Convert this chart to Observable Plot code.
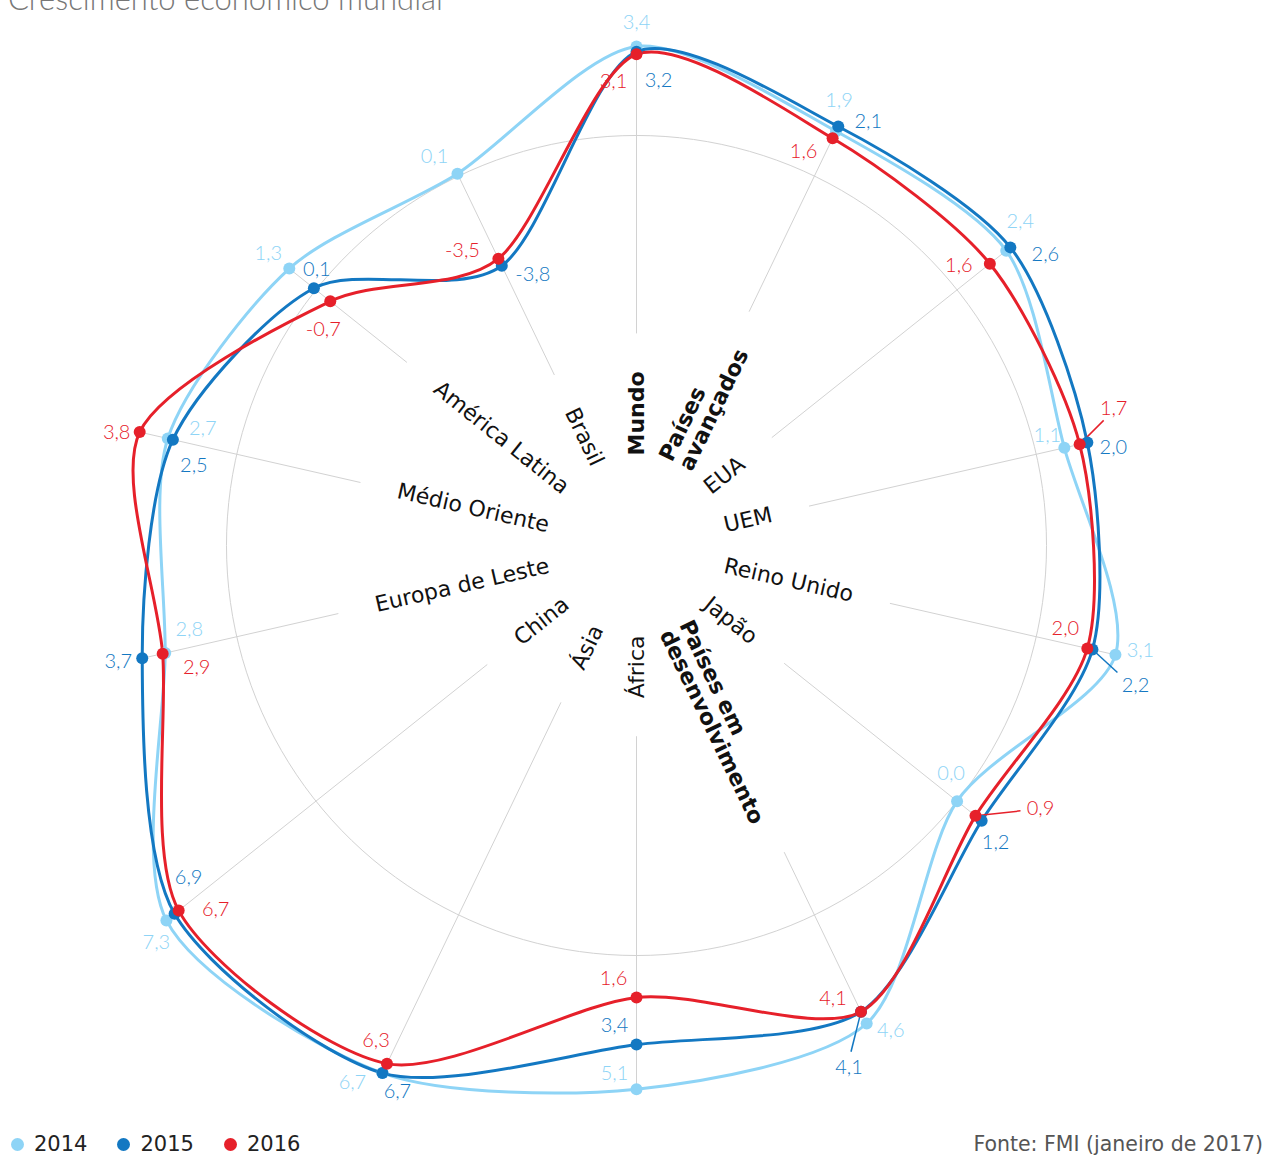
<!DOCTYPE html>
<html><head><meta charset="utf-8">
<script src="https://cdn.jsdelivr.net/npm/d3@7"></script>
<script src="https://cdn.jsdelivr.net/npm/@observablehq/plot@0.6"></script>
<style>
body{margin:0;background:#fff;}
#wrap{position:relative;width:1268px;height:1155px;overflow:hidden;}
#chart{position:absolute;left:0;top:0;}
#title{position:absolute;left:8px;top:-17px;font-family:Lato,sans-serif;font-weight:300;font-size:31px;line-height:30px;color:#777;white-space:nowrap;}
#legend{position:absolute;left:11px;top:1132px;height:24px;display:flex;align-items:center;font-family:"DejaVu Sans",sans-serif;font-size:21px;color:#222;}
#legend .item{display:flex;align-items:center;margin-right:30px;}
#legend .dot{width:13px;height:13px;border-radius:50%;margin-right:10px;}
#source{position:absolute;right:5px;top:1132px;height:24px;line-height:24px;font-family:"DejaVu Sans",sans-serif;font-size:20.5px;color:#555;white-space:nowrap;}
</style></head><body>
<div id="wrap">
  <div id="chart"></div>
  <div id="title">Crescimento económico mundial</div>
  <div id="legend"></div>
  <div id="source">Fonte: FMI (janeiro de 2017)</div>
</div>
<script>
// ---- data ----
const categories = ["Mundo","Países avançados","EUA","UEM","Reino Unido","Japão","Países em desenvolvimento","África","Ásia","China","Europa de Leste","Médio Oriente","América Latina","Brasil"];
const categoryLabels = ["Mundo","Países\navançados","EUA","UEM","Reino Unido","Japão","Países em\ndesenvolvimento","África","Ásia","China","Europa de Leste","Médio Oriente","América Latina","Brasil"];
const boldCategories = ["Mundo","Países avançados","Países em desenvolvimento"];
const years = ["2014","2015","2016"];
const values2014 = [3.4,1.9,2.4,1.1,3.1,0.0,4.6,5.1,6.7,7.3,2.8,2.7,1.3,0.1];
const values2015 = [3.2,2.1,2.6,2.0,2.2,1.2,4.1,3.4,6.7,6.9,3.7,2.5,0.1,-3.8];
const values2016 = [3.1,1.6,1.6,1.7,2.0,0.9,4.1,1.6,6.3,6.7,2.9,3.8,-0.7,-3.5];
const colors = ["#8ed4f6","#1378c2","#e6202a"];

// ---- label layout (pixel nudges of value labels, leader-line ends) ----
const nudge2014 = [[0,-24],[3,-31],[14,-29],[-17,-12],[25,-4],[-6,-28],[24,7],[-22,-16],[-30,10],[-10,22],[24,-23],[35,-10],[-21,-15],[-23,-17]];
const nudge2015 = [[22,29],[30,-5],[35,7],[26,5],[43,36],[14,22],[-12,56],[-22,-19],[15,19],[14,-36],[-24,3],[21,26],[3,-19],[31,9]];
const nudge2016 = [[-23,27],[-29,13],[-31,2],[34,-36],[-22,-20],[65,-7],[-28,-13],[-23,-19],[-11,-23],[37,-1],[34,14],[-23,0],[-7,28],[-36,-8]];
const leaders = [
  {cat: 3, year: "2016", end: [24,-24]},
  {cat: 4, year: "2015", end: [25,23]},
  {cat: 5, year: "2016", end: [45,-5]},
  {cat: 6, year: "2015", end: [-10,40]}
];

// ---- geometry ----
const W = 1268, H = 1122, cx = 636, cy = 545;
const k = 26.2;              // px per unit
const vCenter = -15.65;      // value at the centre
const labelStart = 90;       // px from centre
const spokeGap = 38;
const step = 360 / categories.length;
const rad = a => a * Math.PI / 180;
const rho = v => v - vCenter;

const series = [values2014, values2015, values2016];
const nudges = [nudge2014, nudge2015, nudge2016];
const fmt = v => v.toFixed(1).replace(".", ",");

const rows = years.flatMap((yr, j) => series[j].map((v, i) => {
  const t = rad(i * step), r = rho(v);
  const x = r * Math.sin(t), y = r * Math.cos(t);
  const [dx, dy] = nudges[j][i];
  return {year: yr, i, v, x, y, lx: x + dx / k, ly: y - dy / k, label: fmt(v)};
}));

// category labels + spokes
const ctx = document.createElement("canvas").getContext("2d");
const cats = categories.map((c, i) => {
  const a = i * step, t = rad(a);
  const bold = boldCategories.includes(c);
  ctx.font = `${bold ? "bold " : ""}22px "DejaVu Sans"`;
  const w = d3.max(categoryLabels[i].split("\n"), s => ctx.measureText(s).width);
  const r0 = labelStart / k;
  const rIn = (labelStart + w + spokeGap) / k;
  const vmax = d3.max(series, s => s[i]);
  const rOut = rho(vmax);
  return {
    cat: c, label: categoryLabels[i], bold, right: a < 180,
    rotate: a < 180 ? a - 90 : a - 270,
    x: r0 * Math.sin(t), y: r0 * Math.cos(t),
    x1: rIn * Math.sin(t), y1: rIn * Math.cos(t),
    x2: rOut * Math.sin(t), y2: rOut * Math.cos(t)
  };
});

const circle = d3.range(0, 361, 2).map(a => ({x: rho(0) * Math.sin(rad(a)), y: rho(0) * Math.cos(rad(a))}));

const leaderRows = leaders.map(l => {
  const d = rows.find(r => r.year === l.year && r.i === l.cat);
  return {year: l.year, x1: d.x, y1: d.y, x2: d.x + l.end[0] / k, y2: d.y - l.end[1] / k};
});

const catText = (filter, anchor, weight) => Plot.text(cats.filter(filter), {
  x: "x", y: "y", text: "label", rotate: "rotate", textAnchor: anchor,
  fontSize: 22, fontWeight: weight, fontFamily: "DejaVu Sans", fill: "#111", lineHeight: 1.0
});

const smooth = d3.curveCardinalClosed.tension(0.2);

const chart = Plot.plot({
  width: W, height: H, margin: 0,
  x: {domain: [-cx / k, (W - cx) / k], range: [0, W], axis: null},
  y: {domain: [-(H - cy) / k, cy / k], range: [H, 0], axis: null},
  color: {domain: years, range: colors},
  style: {background: "white", overflow: "visible"},
  marks: [
    Plot.line(circle, {x: "x", y: "y", stroke: "#d2d2d2", strokeWidth: 1}),
    Plot.link(cats, {x1: "x1", y1: "y1", x2: "x2", y2: "y2", stroke: "#d2d2d2", strokeWidth: 1}),
    catText(d => d.right && d.bold, "start", "bold"),
    catText(d => d.right && !d.bold, "start", "normal"),
    catText(d => !d.right && d.bold, "end", "bold"),
    catText(d => !d.right && !d.bold, "end", "normal"),
    ...years.map(yr => Plot.line(rows.filter(d => d.year === yr), {
      x: "x", y: "y", stroke: "year", strokeWidth: 3, curve: smooth
    })),
    Plot.link(leaderRows, {x1: "x1", y1: "y1", x2: "x2", y2: "y2", stroke: "year", strokeWidth: 1.5}),
    ...years.map(yr => Plot.dot(rows.filter(d => d.year === yr), {
      x: "x", y: "y", fill: "year", r: 6
    })),
    Plot.text(rows, {x: "lx", y: "ly", text: "label", fill: "year",
      fontSize: 20, fontFamily: "Lato", fontWeight: 300})
  ]
});
document.getElementById("chart").appendChild(chart);

// legend
const legend = document.getElementById("legend");
years.forEach((yr, j) => {
  const item = document.createElement("div");
  item.className = "item";
  item.innerHTML = `<span class="dot" style="background:${colors[j]}"></span><span>${yr}</span>`;
  legend.appendChild(item);
});
</script>
</body></html>
